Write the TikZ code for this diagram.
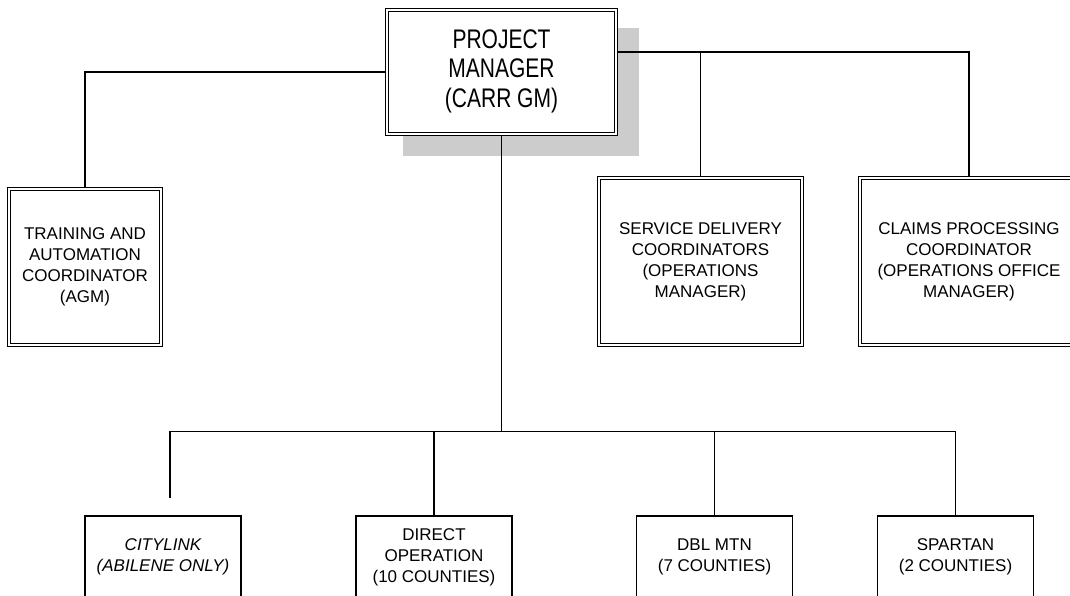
\documentclass[tikz,border=0pt]{standalone}
\usepackage{fontspec}
\setmainfont{Liberation Sans}
\usepackage{graphicx}
\usepackage{xcolor}
\usetikzlibrary{positioning, calc, backgrounds}

\definecolor{shadowgray}{RGB}{204,204,204}
\newcommand{\pmtext}[1]{\scalebox{1}[1.28]{\fontsize{21}{23.4}\selectfont\begin{tabular}{@{}c@{}}#1\end{tabular}}}

\begin{document}
\begin{tikzpicture}[
        x=1pt, y=-1pt,
        every node/.style={font=\fontsize{17}{21}\selectfont},
        link/.style={draw, line width=1.7pt, black},
        mgr/.style={draw, double, line width=1.1pt, double distance=2.5pt, fill=white, minimum width=229pt, minimum height=124pt, inner sep=0pt, align=center},
        coord/.style={draw, double, line width=1.1pt, double distance=2.5pt, fill=white, minimum height=156pt, inner sep=0pt, align=center},
        unit/.style={draw, line width=1.1pt, fill=white, minimum width=156pt, minimum height=82pt, inner sep=0pt, align=center},
    ]

    \useasboundingbox (0,0) rectangle (1070,596);
    \clip (0,0) rectangle (1070,596);

    % ── Project Manager ──
    \node[mgr] (pm) at (501.5,72) {\pmtext{PROJECT\\MANAGER\\(CARR GM)}};

    % ── Coordinators ──
    \node[coord, minimum width=152pt] (train) at (85,267) {TRAINING AND\\AUTOMATION\\COORDINATOR\\(AGM)};
    \node[coord, minimum width=203pt, minimum height=167pt] (service) at (700.5,261.5) {SERVICE DELIVERY\\COORDINATORS\\(OPERATIONS\\MANAGER)};
    \node[coord, minimum width=218pt, minimum height=167pt] (claims) at (969,261.5) {CLAIMS PROCESSING\\COORDINATOR\\(OPERATIONS OFFICE\\MANAGER)};

    % ── Operating units (bottom row) ──
    \node[unit, font=\fontsize{17}{21}\selectfont\itshape] (citylink) at (163,557) {CITYLINK\\(ABILENE ONLY)};
    \node[unit] (direct) at (434,557) {DIRECT\\OPERATION\\(10 COUNTIES)};
    \node[unit] (dblmtn) at (714.5,557) {DBL MTN\\(7 COUNTIES)};
    \node[unit] (spartan) at (955.5,557) {SPARTAN\\(2 COUNTIES)};

    % ── Connectors ──
    \coordinate (rhub) at ([yshift=20pt]pm.east);
    \coordinate (bhub) at ($(pm.south)+(0,297)$);
    \coordinate (cityend) at (170,498);

    \draw[link] (pm.west) -| (train.north);
    \draw[link] (rhub) -| (claims.north);
    \draw[link] (service.north) -- (service.north |- rhub);
    \draw[link] (pm.south) -- (bhub);
    \draw[link] (cityend) -- (cityend |- bhub) -| (spartan.north);
    \foreach \n in {direct, dblmtn}
        \draw[link] (\n.north) -- (\n.north |- bhub);

    % ── Shadow ──
    \begin{scope}[on background layer]
        \fill[shadowgray] ([xshift=17pt,yshift=-19pt]pm.north west) rectangle ([xshift=22pt,yshift=-21pt]pm.south east);
    \end{scope}

\end{tikzpicture}
\end{document}
